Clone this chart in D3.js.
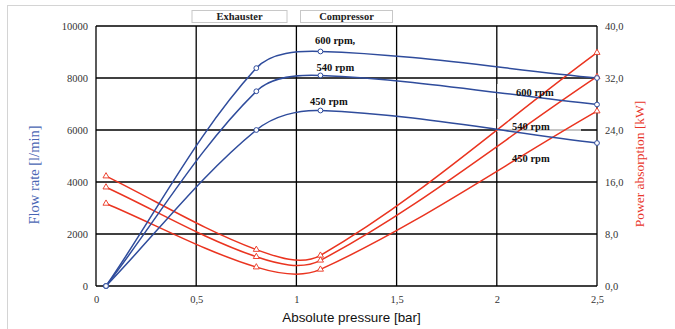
<!DOCTYPE html>
<html><head><meta charset="utf-8">
<script src="https://cdn.jsdelivr.net/npm/d3@7"></script>
<style>body{margin:0;background:#fff}svg{display:block}</style>
</head><body><svg id="c" width="675" height="329"></svg>
<script>
const pressure = [0.05, 0.8, 1.12, 2.5];
const flow600 = [0, 8380, 9020, 8000];
const flow540 = [0, 7490, 8100, 6980];
const flow450 = [0, 6000, 6750, 5500];
const power600 = [16.9, 5.6, 4.7, 35.9];
const power540 = [15.2, 4.5, 3.95, 32.2];
const power450 = [12.7, 2.9, 2.55, 26.9];
const xTicks = [0, 0.5, 1, 1.5, 2, 2.5];
const flowTicks = [0, 2000, 4000, 6000, 8000, 10000];
const powerTicks = [0, 8, 16, 24, 32, 40];
const legendLabels = ["Exhauster", "Compressor"];
const flowLabels = ["600 rpm,", "540 rpm", "450 rpm"];
const powerLabels = ["600 rpm", "540 rpm", "450 rpm"];

const svg = d3.select("#c");
const x = d3.scaleLinear().domain([0, 2.5]).range([96, 597]);
const yL = d3.scaleLinear().domain([0, 10000]).range([286, 26]);
const yR = d3.scaleLinear().domain([0, 40]).range([286, 26]);
const BLUE = "#2f4c9c", RED = "#ea3420";
const serif = "'Liberation Serif','Times New Roman',serif";

// outer frame
svg.append("line").attr("x1",7).attr("x2",675).attr("y1",5.5).attr("y2",5.5).attr("stroke","#d4d4d4");
svg.append("line").attr("x1",7.5).attr("x2",7.5).attr("y1",5).attr("y2",329).attr("stroke","#d4d4d4");

// grid
const g = svg.append("g");
g.selectAll(".h").data(flowTicks).join("line")
  .attr("x1", x(0)).attr("x2", x(2.5)).attr("y1", d => yL(d)).attr("y2", d => yL(d))
  .attr("stroke", "#000").attr("stroke-width", 1.3);
g.selectAll(".v").data(xTicks).join("line")
  .attr("x1", d => x(d)).attr("x2", d => x(d)).attr("y1", yL(0)).attr("y2", yL(10000))
  .attr("stroke", "#000").attr("stroke-width", 1.3);

// label backgrounds (semi transparent)
svg.append("rect").attr("x",497).attr("y",84).attr("width",66).attr("height",14).attr("fill","#fff").attr("opacity",0.7);
svg.append("rect").attr("x",497).attr("y",119).attr("width",84).attr("height",13).attr("fill","#fff").attr("opacity",0.7);

// axes
function styleAxis(sel){
  sel.select(".domain").remove();
  sel.selectAll("text").attr("font-family", serif).attr("font-size", 10.5).attr("fill", "#333");
}
svg.append("g").attr("transform", `translate(${x(0)},0)`)
  .call(d3.axisLeft(yL).tickValues(flowTicks).tickSize(0).tickPadding(8).tickFormat(d3.format("d")))
  .call(styleAxis);
svg.append("g").attr("transform", `translate(${x(2.5)},0)`)
  .call(d3.axisRight(yR).tickValues(powerTicks).tickSize(0).tickPadding(8).tickFormat(d => d3.format(".1f")(d).replace(".", ",")))
  .call(styleAxis);
svg.append("g").attr("transform", `translate(0,${yL(0)})`)
  .call(d3.axisBottom(x).tickValues(xTicks).tickSize(0).tickPadding(9.5).tickFormat(d => String(d).replace(".", ",")))
  .call(styleAxis);

// smooth path (Excel-like)
function smooth(pts){
  const p = d3.path(), n = pts.length;
  const unit = (a,b) => { const dx=b[0]-a[0], dy=b[1]-a[1], l=Math.hypot(dx,dy)||1; return [dx/l, dy/l]; };
  const tan = i => unit(pts[Math.max(i-1,0)], pts[Math.min(i+1,n-1)]);
  p.moveTo(pts[0][0], pts[0][1]);
  for (let i = 0; i < n-1; i++){
    const a = pts[i], b = pts[i+1];
    const L = Math.hypot(b[0]-a[0], b[1]-a[1]) / 3;
    const t1 = tan(i), t2 = tan(i+1);
    p.bezierCurveTo(a[0]+t1[0]*L, a[1]+t1[1]*L, b[0]-t2[0]*L, b[1]-t2[1]*L, b[0], b[1]);
  }
  return p.toString();
}

const flows = [flow600, flow540, flow450];
const powers = [power600, power540, power450];

powers.forEach(s => {
  const pts = pressure.map((p,i) => [x(p), yR(s[i])]);
  svg.append("path").attr("d", smooth(pts)).attr("fill","none").attr("stroke",RED).attr("stroke-width",1.5);
});
flows.forEach(s => {
  const pts = pressure.map((p,i) => [x(p), yL(s[i])]);
  svg.append("path").attr("d", smooth(pts)).attr("fill","none").attr("stroke",BLUE).attr("stroke-width",1.5);
});
const tri = d3.symbol().type(d3.symbolTriangle).size(16);
powers.forEach(s => {
  svg.append("g").selectAll("path").data(pressure).join("path")
    .attr("d", tri).attr("transform", (p,i) => `translate(${x(p)},${yR(s[i])})`)
    .attr("fill","#fff").attr("stroke",RED).attr("stroke-width",0.9);
});
flows.forEach(s => {
  svg.append("g").selectAll("circle").data(pressure).join("circle")
    .attr("cx", p => x(p)).attr("cy", (p,i) => yL(s[i])).attr("r", 2.4)
    .attr("fill","#fff").attr("stroke",BLUE).attr("stroke-width",1);
});

// data labels
const lbl = (t, lx, ly) => svg.append("text").text(t).attr("x",lx).attr("y",ly)
  .attr("font-family",serif).attr("font-weight","bold").attr("font-size",10.5).attr("fill","#111");
lbl(flowLabels[0], 315, 43.5);
lbl(flowLabels[1], 316.5, 70.5);
lbl(flowLabels[2], 310, 104.5);
lbl(powerLabels[0], 516, 96);
lbl(powerLabels[1], 512, 130);
lbl(powerLabels[2], 512, 162);

// legend boxes
[[192, 95], [300.5, 92]].forEach((b, i) => {
  svg.append("rect").attr("x", b[0]).attr("y", 10.5).attr("width", b[1]).attr("height", 12)
    .attr("fill","#fff").attr("stroke","#c8c8c8").attr("stroke-width",1);
  svg.append("text").text(legendLabels[i]).attr("x", b[0] + b[1]/2).attr("y", 20)
    .attr("text-anchor","middle").attr("font-family",serif).attr("font-weight","bold")
    .attr("font-size",10.5).attr("fill","#222");
});

// axis titles
svg.append("text").text("Flow rate [l/min]")
  .attr("transform","translate(39,175) rotate(-90)").attr("text-anchor","middle")
  .attr("font-family",serif).attr("font-size",14.5).attr("fill","#4a66b4");
svg.append("text").text("Power absorption [kW]")
  .attr("transform","translate(644,164) rotate(-90)").attr("text-anchor","middle")
  .attr("font-family",serif).attr("font-size",13.5).attr("fill","#e8352a");
svg.append("text").text("Absolute pressure [bar]")
  .attr("x", 351.5).attr("y", 322).attr("text-anchor","middle")
  .attr("font-family","'Liberation Sans',Arial,sans-serif").attr("font-size",13.4).attr("fill","#111");
</script></body></html>
